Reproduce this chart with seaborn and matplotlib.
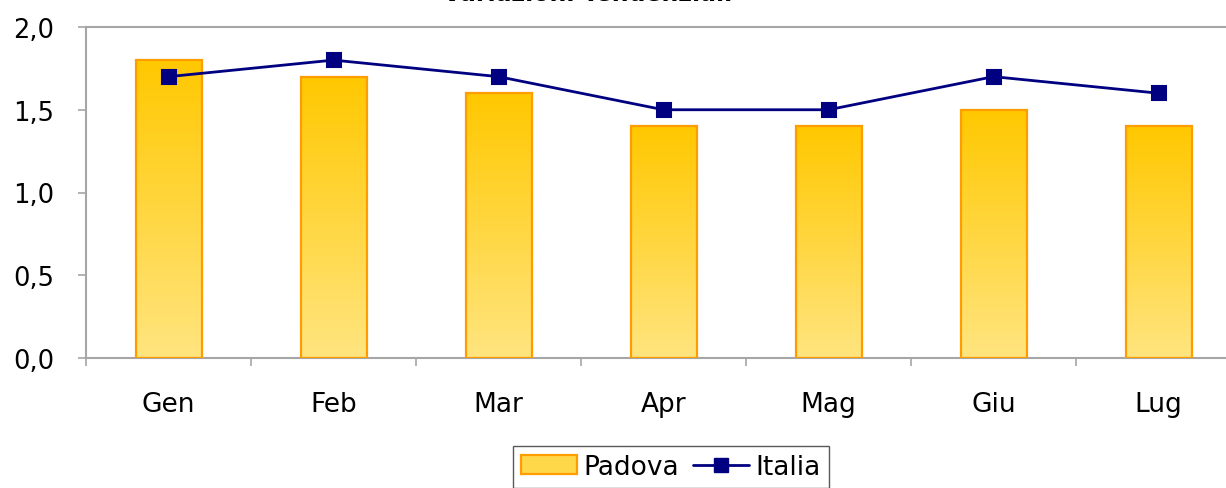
import numpy as np
import matplotlib
matplotlib.use("Agg")
import matplotlib.pyplot as plt
from matplotlib.colors import LinearSegmentedColormap
from matplotlib.patches import Patch
from matplotlib.lines import Line2D
from matplotlib.ticker import FuncFormatter, MultipleLocator
import seaborn as sns

months = ["Gen", "Feb", "Mar", "Apr", "Mag", "Giu", "Lug"]
padova = [1.8, 1.7, 1.6, 1.4, 1.4, 1.5, 1.4]
italia = [1.7, 1.8, 1.7, 1.5, 1.5, 1.7, 1.6]

GRAY = "#A6A6A6"
NAVY = "#000080"
EDGE = "#FF9C00"

sns.set_style("white")
plt.rcParams["font.family"] = ["DejaVu Sans"]
plt.rcParams["text.color"] = "black"
plt.rcParams["xtick.color"] = "black"
plt.rcParams["ytick.color"] = "black"

fig = plt.figure(figsize=(12.26, 4.89), dpi=100)
# plot area runs past the right edge of the picture, like the original
ax = fig.add_axes([86 / 1226, 1 - 359 / 489, 1155 / 1226, (359 - 28) / 489])

sns.barplot(x=months, y=padova, width=0.4, color="#FFD84A", ax=ax, zorder=2)
sns.pointplot(x=months, y=italia, color=NAVY, markers="s", markersize=10,
              linewidth=2, ax=ax, zorder=4)

# vertical gradient inside each bar
cmap = LinearSegmentedColormap.from_list("gold", ["#FFE580", "#FFC800"])
grad = np.linspace(0, 1, 256).reshape(-1, 1)
for bar in ax.patches:
    x0, y0 = bar.get_x(), bar.get_y()
    w, h = bar.get_width(), bar.get_height()
    img = ax.imshow(grad, cmap=cmap, origin="lower", aspect="auto",
                    extent=(x0, x0 + w, y0, y0 + h), zorder=2)
    img.set_clip_path(bar)
    bar.set_facecolor("none")
    bar.set_edgecolor(EDGE)
    bar.set_linewidth(1.6)
    bar.set_zorder(3)

ax.set_xlim(-0.5, len(months) - 0.5)
ax.set_ylim(0, 2.0)
ax.yaxis.set_major_locator(MultipleLocator(0.5))
ax.yaxis.set_major_formatter(FuncFormatter(lambda v, p: f"{v:.1f}".replace(".", ",")))

ax.set_xticks(range(len(months)))
ax.set_xticklabels(months)
ax.set_xticks(np.arange(-0.5, len(months), 1.0), minor=True)
ax.tick_params(axis="x", which="both", bottom=True)
ax.tick_params(axis="y", which="both", left=True)
ax.tick_params(axis="x", which="major", length=0, pad=24, labelsize=19, labelcolor="black")
ax.tick_params(axis="x", which="minor", length=6, width=1.2, color=GRAY, direction="out")
ax.tick_params(axis="y", length=6, width=1.2, color=GRAY, direction="out", pad=17,
               labelsize=18.5, labelcolor="black")
ax.set_xlabel("")
ax.set_ylabel("")

for side in ["left", "bottom", "top"]:
    ax.spines[side].set_visible(True)
    ax.spines[side].set_color(GRAY)
    ax.spines[side].set_linewidth(1.5)
ax.spines["right"].set_visible(False)

fig.text(0.479, 1 - 1 / 489, "Variazioni Tendenziali", ha="center", va="baseline",
         fontsize=17, fontweight="bold", color="black")

handles = [
    Patch(facecolor="#FFD84A", edgecolor=EDGE, linewidth=1.6, label="Padova"),
    Line2D([0], [0], color=NAVY, marker="s", markersize=10, linewidth=2, label="Italia"),
]
leg = fig.legend(handles=handles, loc="upper center", bbox_to_anchor=(671 / 1226, 1 - 447 / 489),
                 ncol=2, frameon=True, fancybox=False, fontsize=19, handlelength=2.1,
                 columnspacing=0.55, handletextpad=0.25, borderpad=0.3, borderaxespad=0)
leg.get_frame().set_edgecolor("#303030")
leg.get_frame().set_linewidth(1.0)
for t in leg.get_texts():
    t.set_color("black")

plt.savefig("out.png", dpi=100)
plt.close()
